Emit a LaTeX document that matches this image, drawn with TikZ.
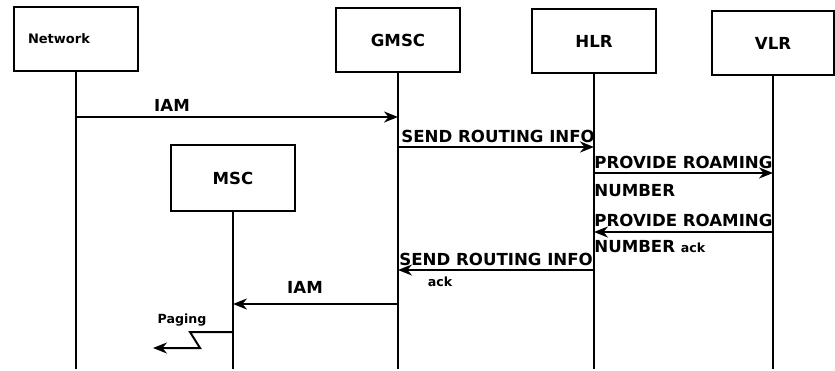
\documentclass[tikz,border=0pt]{standalone}
\usepackage{fontspec}
\setmainfont{DejaVu Sans}
\usepackage{tikz}
\usetikzlibrary{arrows.meta,positioning}
\tikzset{
  box/.style={draw,line width=1pt,minimum width=62pt,minimum height=32pt,
              inner sep=0pt,font=\fontsize{8.3}{9}\selectfont\bfseries},
  lifeline/.style={line width=1pt},
  msg/.style={-{Stealth[length=7pt,width=5.5pt]},line width=1pt},
  lbl/.style={inner sep=0pt,font=\fontsize{8.3}{9}\selectfont\bfseries},
  slbl/.style={inner sep=0pt,font=\fontsize{6.3}{7}\selectfont\bfseries},
}
\begin{document}
\begin{tikzpicture}[x=0.5pt,y=-0.5pt]
\useasboundingbox (0,0) rectangle (835,370);
% entities
\node[box,font=\fontsize{6.5}{7}\selectfont\bfseries,text width=48pt,align=left] (net) at (76,39) {Network};
\node[box] (gmsc) at (398,40) {GMSC};
\node[box] (hlr) at (594,41) {HLR};
\node[box,minimum width=61pt] (vlr) at (773,43) {VLR};
\node[box,minimum height=33pt] (msc) at (233,178) {MSC};
\coordinate (bot) at (0,369);
% lifelines
\draw[lifeline] (net.south) -- (net.south |- bot);
\draw[lifeline] (gmsc.south) -- (gmsc.south |- bot);
\draw[lifeline] (hlr.south) -- (hlr.south |- bot);
\draw[lifeline] (vlr.south) -- (vlr.south |- bot);
\draw[lifeline] (msc.south) -- (msc.south |- bot);
% messages
\draw[msg] (net |- 0,117) -- (gmsc |- 0,117);
\node[lbl] (iam1) at (172,105) {IAM};
\draw[msg] (gmsc |- 0,147) -- (hlr |- 0,147);
\node[lbl,anchor=west] (sri) at (401,136) {SEND ROUTING INFO};
\draw[msg] (hlr |- 0,173) -- (vlr |- 0,173);
\node[lbl,anchor=west] (prn) at (594,162) {PROVIDE ROAMING};
\node[lbl,anchor=west] (prnb) at (594,191) {NUMBER};
\draw[msg] (vlr |- 0,232) -- (hlr |- 0,232);
\node[lbl,anchor=west] (prnack) at (594,220) {PROVIDE ROAMING};
\node[lbl,anchor=west] (prnackb) at (594,247) {NUMBER {\fontsize{6.3}{7}\selectfont ack}};
\draw[msg] (hlr |- 0,270) -- (gmsc |- 0,270);
\node[lbl,anchor=west] (sriack) at (399,259) {SEND ROUTING INFO};
\node[slbl] (sriackb) at (440,282) {ack};
\draw[msg] (gmsc |- 0,304) -- (msc |- 0,304);
\node[lbl] (iam2) at (305,287) {IAM};
% paging
\coordinate (pg) at (153,348);
\draw[msg] (msc |- 0,332) -- (190,332) -- (200,348) -- (pg);
\node[slbl] (paging) at (182,320) {Paging};
\end{tikzpicture}
\end{document}
